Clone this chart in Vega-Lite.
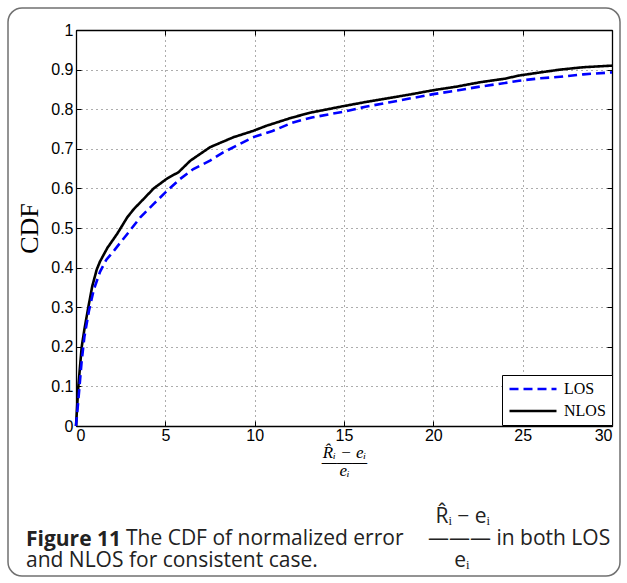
{
  "$schema": "https://vega.github.io/schema/vega-lite/v6.json",
  "width": 612,
  "height": 568,
  "autosize": {"type": "none"},
  "padding": {"left": 8, "top": 8, "right": 7, "bottom": 7},
  "background": "white",
  "config": {
    "view": {"stroke": "#707070", "strokeWidth": 1.5, "cornerRadius": 14},
    "axis": {
      "domainColor": "black", "domainWidth": 1.3,
      "tickColor": "black", "tickWidth": 1, "tickSize": -5,
      "labelFont": "Liberation Sans", "labelFontSize": 16, "labelColor": "black",
      "gridColor": "#333333", "gridDash": [1, 4], "gridWidth": 1, "gridOpacity": 0.8,
      "titleColor": "black"
    }
  },
  "title": {
    "text": ["\u00a0", "Figure 11", "\u00a0"],
    "subtitle": [
      "\u200b\u2003\u2003\u2003\u2003\u2003\u2003\u2003\u2003\u2003\u2003\u2003\u2003\u2003\u2003\u2003\u2003\u2003\u2003\u2003\u2002R\u0302\u1d62 \u2212 e\u1d62",
      "\u200b\u2003\u2003\u2003\u2003\u2002\u00a0The CDF of normalized error\u2003\u2009\u2014\u2014\u2014\u00a0in both LOS",
      "and NLOS for consistent case.\u2003\u2003\u2003\u2003\u2003\u2003\u2002e\u1d62"
    ],
    "orient": "bottom", "anchor": "start", "frame": "group",
    "font": "Open Sans", "fontSize": 21, "fontWeight": "bold", "color": "#222222", "lineHeight": 22,
    "subtitleFont": "Open Sans", "subtitleFontSize": 21, "subtitleFontWeight": "normal", "subtitleColor": "#222222", "subtitleLineHeight": 22,
    "subtitlePadding": -66, "offset": -69, "dx": 18
  },
  "data": {
    "values": [
      {"x": 0, "cdf": 0, "s": "NLOS"}, {"x": 0.13, "cdf": 0.1, "s": "NLOS"}, {"x": 0.32, "cdf": 0.2, "s": "NLOS"},
      {"x": 0.47, "cdf": 0.244, "s": "NLOS"}, {"x": 0.69, "cdf": 0.3, "s": "NLOS"}, {"x": 0.91, "cdf": 0.353, "s": "NLOS"},
      {"x": 1.16, "cdf": 0.395, "s": "NLOS"}, {"x": 1.34, "cdf": 0.415, "s": "NLOS"}, {"x": 1.76, "cdf": 0.45, "s": "NLOS"},
      {"x": 2.3, "cdf": 0.485, "s": "NLOS"}, {"x": 2.87, "cdf": 0.527, "s": "NLOS"}, {"x": 3.24, "cdf": 0.548, "s": "NLOS"},
      {"x": 3.8, "cdf": 0.574, "s": "NLOS"}, {"x": 4.35, "cdf": 0.6, "s": "NLOS"}, {"x": 5.1, "cdf": 0.625, "s": "NLOS"},
      {"x": 5.74, "cdf": 0.641, "s": "NLOS"}, {"x": 6.4, "cdf": 0.67, "s": "NLOS"}, {"x": 7.5, "cdf": 0.704, "s": "NLOS"},
      {"x": 8.8, "cdf": 0.729, "s": "NLOS"}, {"x": 9.9, "cdf": 0.745, "s": "NLOS"}, {"x": 10.65, "cdf": 0.758, "s": "NLOS"},
      {"x": 12.1, "cdf": 0.779, "s": "NLOS"}, {"x": 13.2, "cdf": 0.792, "s": "NLOS"}, {"x": 15, "cdf": 0.808, "s": "NLOS"},
      {"x": 16.2, "cdf": 0.818, "s": "NLOS"}, {"x": 17.5, "cdf": 0.828, "s": "NLOS"}, {"x": 18.8, "cdf": 0.838, "s": "NLOS"},
      {"x": 20, "cdf": 0.848, "s": "NLOS"}, {"x": 21.3, "cdf": 0.857, "s": "NLOS"}, {"x": 22.6, "cdf": 0.868, "s": "NLOS"},
      {"x": 24, "cdf": 0.877, "s": "NLOS"}, {"x": 24.8, "cdf": 0.885, "s": "NLOS"}, {"x": 26, "cdf": 0.893, "s": "NLOS"},
      {"x": 27.1, "cdf": 0.9, "s": "NLOS"}, {"x": 28.4, "cdf": 0.906, "s": "NLOS"}, {"x": 30, "cdf": 0.91, "s": "NLOS"},
      {"x": 0, "cdf": 0, "s": "LOS"}, {"x": 0.13, "cdf": 0.065, "s": "LOS"}, {"x": 0.32, "cdf": 0.165, "s": "LOS"},
      {"x": 0.47, "cdf": 0.225, "s": "LOS"}, {"x": 0.72, "cdf": 0.29, "s": "LOS"}, {"x": 1.0, "cdf": 0.345, "s": "LOS"},
      {"x": 1.35, "cdf": 0.39, "s": "LOS"}, {"x": 1.7, "cdf": 0.42, "s": "LOS"}, {"x": 2.13, "cdf": 0.443, "s": "LOS"},
      {"x": 2.87, "cdf": 0.485, "s": "LOS"}, {"x": 3.6, "cdf": 0.527, "s": "LOS"}, {"x": 4.35, "cdf": 0.561, "s": "LOS"},
      {"x": 5.1, "cdf": 0.594, "s": "LOS"}, {"x": 5.83, "cdf": 0.624, "s": "LOS"}, {"x": 6.57, "cdf": 0.649, "s": "LOS"},
      {"x": 7.5, "cdf": 0.67, "s": "LOS"}, {"x": 8.24, "cdf": 0.691, "s": "LOS"}, {"x": 9.17, "cdf": 0.712, "s": "LOS"},
      {"x": 9.9, "cdf": 0.729, "s": "LOS"}, {"x": 11, "cdf": 0.745, "s": "LOS"}, {"x": 12.1, "cdf": 0.766, "s": "LOS"},
      {"x": 13.2, "cdf": 0.779, "s": "LOS"}, {"x": 15, "cdf": 0.794, "s": "LOS"}, {"x": 16.2, "cdf": 0.806, "s": "LOS"},
      {"x": 17.5, "cdf": 0.817, "s": "LOS"}, {"x": 18.8, "cdf": 0.828, "s": "LOS"}, {"x": 20, "cdf": 0.838, "s": "LOS"},
      {"x": 21.3, "cdf": 0.847, "s": "LOS"}, {"x": 22.6, "cdf": 0.857, "s": "LOS"}, {"x": 24, "cdf": 0.866, "s": "LOS"},
      {"x": 24.8, "cdf": 0.872, "s": "LOS"}, {"x": 26, "cdf": 0.878, "s": "LOS"}, {"x": 27.1, "cdf": 0.882, "s": "LOS"},
      {"x": 28.4, "cdf": 0.888, "s": "LOS"}, {"x": 30, "cdf": 0.893, "s": "LOS"}
    ]
  },
  "layer": [
    {
      "mark": {"type": "line", "strokeWidth": 2.6},
      "encoding": {
        "x": {
          "field": "x", "type": "quantitative",
          "scale": {"domain": [0, 30], "range": [68, 604], "nice": false, "zero": false},
          "axis": {
            "orient": "bottom", "offset": -150, "values": [0, 5, 10, 15, 20, 25, 30], "grid": false,
            "labelPadding": 6,
            "title": ["R\u0302\u1d62 \u2212 e\u1d62", "\u2014\u2014\u2014", "e\u1d62"],
            "titleFont": "Liberation Serif", "titleFontStyle": "italic", "titleFontWeight": "normal",
            "titleFontSize": 17, "titleLineHeight": 9, "titlePadding": 1
          }
        },
        "y": {
          "field": "cdf", "type": "quantitative",
          "scale": {"domain": [0, 1], "range": [418, 22], "nice": false, "zero": false},
          "axis": {
            "orient": "left", "offset": -68, "values": [0, 0.1, 0.2, 0.3, 0.4, 0.5, 0.6, 0.7, 0.8, 0.9, 1],
            "format": "~g", "grid": true, "labelPadding": 8,
            "title": "CDF", "titleFont": "Liberation Serif", "titleFontWeight": "normal", "titleFontSize": 26,
            "titlePadding": 8
          }
        },
        "color": {
          "field": "s", "type": "nominal",
          "scale": {"domain": ["LOS", "NLOS"], "range": ["#0000ff", "#000000"]},
          "legend": {"title": null}
        },
        "strokeDash": {
          "field": "s", "type": "nominal",
          "scale": {"domain": ["LOS", "NLOS"], "range": [[9, 5], [1, 0]]},
          "legend": {
            "title": null, "orient": "none", "legendX": 494, "legendY": 367,
            "strokeColor": "black", "fillColor": "white", "padding": 6, "rowPadding": 6, "clipHeight": 16,
            "symbolType": "stroke", "symbolSize": 2209, "symbolStrokeWidth": 2.6,
            "labelFont": "Liberation Serif", "labelFontSize": 16, "labelColor": "black", "labelOffset": 6
          }
        }
      }
    },
    {
      "mark": {"type": "line", "opacity": 0},
      "encoding": {
        "x": {
          "field": "x", "type": "quantitative",
          "axis": {"orient": "top", "offset": -22, "values": [0, 5, 10, 15, 20, 25, 30], "labels": false, "grid": true, "title": null}
        },
        "y": {
          "field": "cdf", "type": "quantitative",
          "axis": {"orient": "right", "offset": -8, "values": [0, 0.1, 0.2, 0.3, 0.4, 0.5, 0.6, 0.7, 0.8, 0.9, 1], "labels": false, "grid": false, "title": null}
        },
        "detail": {"field": "s"}
      }
    }
  ],
  "resolve": {"axis": {"x": "independent", "y": "independent"}}
}
